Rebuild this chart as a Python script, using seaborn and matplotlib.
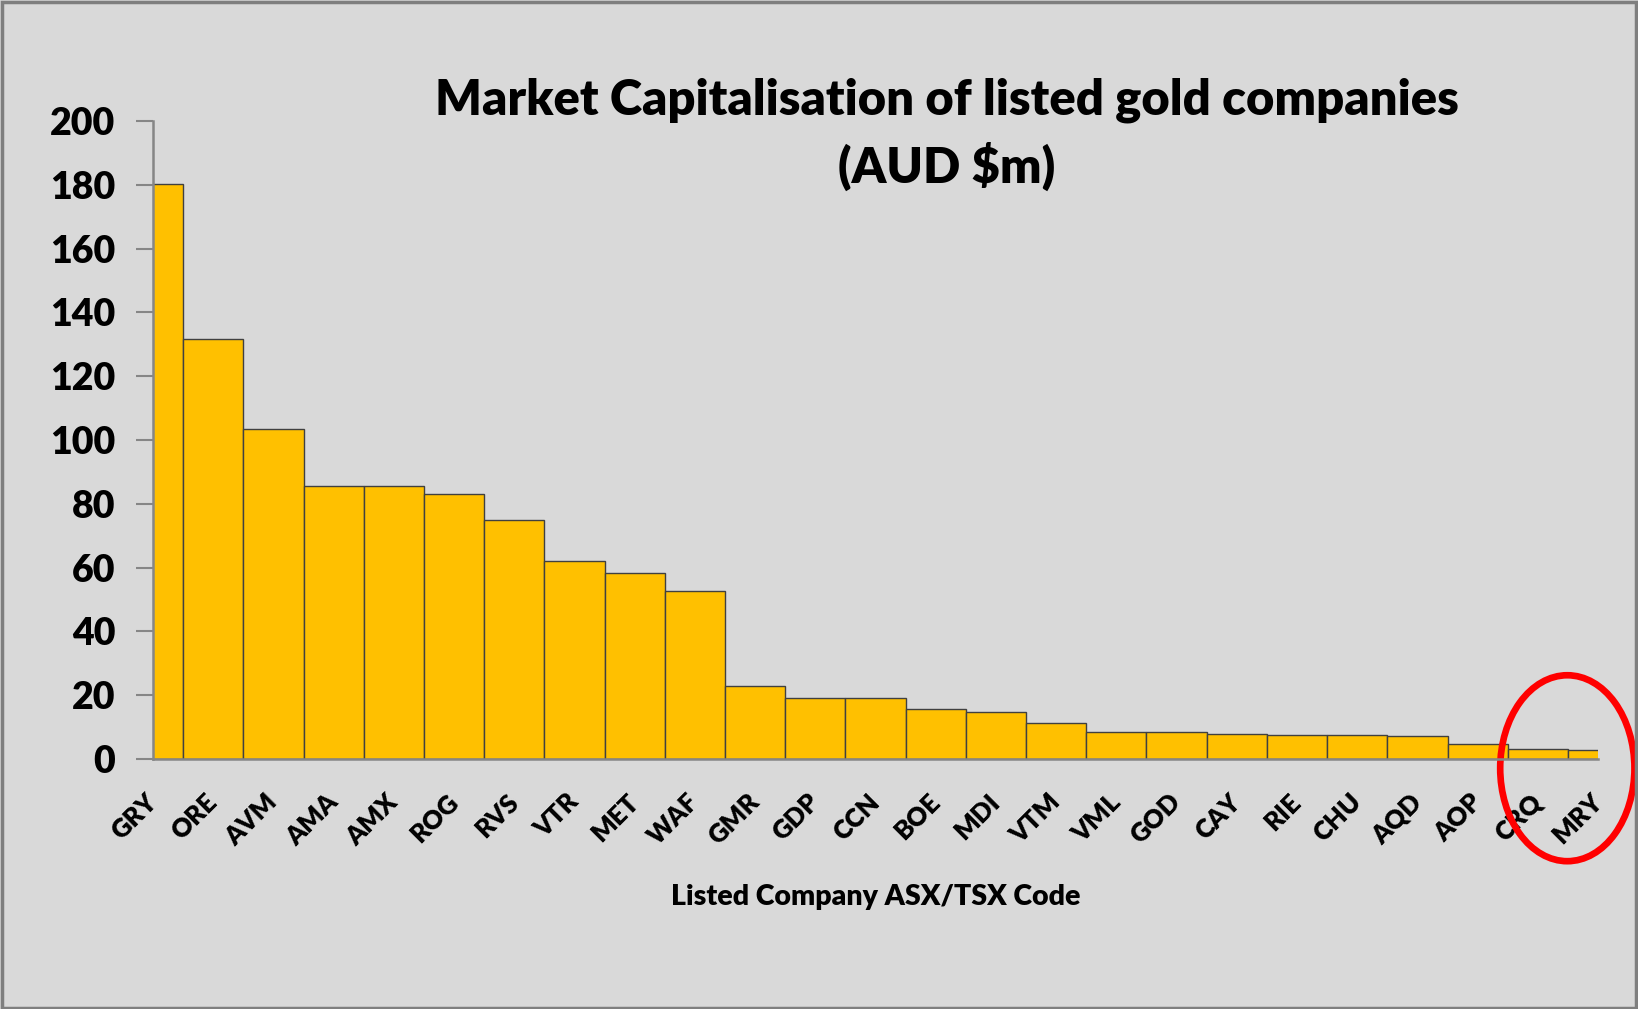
import matplotlib
matplotlib.use("Agg")
import matplotlib.pyplot as plt
from matplotlib.patches import Ellipse, Rectangle
import seaborn as sns
import pandas as pd

codes = ["GRY", "ORE", "AVM", "AMA", "AMX", "ROG", "RVS", "VTR", "MET", "WAF",
         "GMR", "GDP", "CCN", "BOE", "MDI", "VTM", "VML", "GOD", "CAY", "RIE",
         "CHU", "AQD", "AOP", "CRQ", "MRY"]
market_cap = [180.2, 131.8, 103.4, 85.5, 85.5, 83.2, 75.0, 62.0, 58.3, 52.8,
              22.8, 19.1, 19.1, 15.8, 14.7, 11.3, 8.3, 8.3, 7.9, 7.6,
              7.6, 7.3, 4.8, 3.2, 2.8]
y_ticks = [0, 20, 40, 60, 80, 100, 120, 140, 160, 180, 200]

title_text = "Market Capitalisation of listed gold companies\n(AUD $m)"
x_label = "Listed Company ASX/TSX Code"

df = pd.DataFrame({"code": codes, "cap": market_cap})

sns.set_style("white")
plt.rcParams["font.family"] = ["Lato", "DejaVu Sans"]
plt.rcParams["text.color"] = "black"
plt.rcParams["xtick.color"] = "black"
plt.rcParams["ytick.color"] = "black"
plt.rcParams["axes.labelcolor"] = "black"

BG = "#d9d9d9"
fig = plt.figure(figsize=(16.38, 10.09), dpi=100, facecolor=BG)
ax = fig.add_axes([0.0934, 0.2478, 0.8822, 0.6322])
ax.set_facecolor(BG)

sns.barplot(data=df, x="code", y="cap", color="#FFC000", saturation=1,
            edgecolor="#404040", linewidth=1.0, width=1.0, ax=ax)

ax.set_xlim(0, len(codes) - 1)
ax.set_ylim(0, 200)
ax.set_yticks(y_ticks)
ax.set_yticklabels([str(v) for v in y_ticks], fontsize=27, fontweight="heavy",
                   color="black")
ax.tick_params(axis="y", left=True, length=12, width=1.5, color="#868686",
               labelcolor="black", pad=15)
ax.tick_params(axis="x", bottom=False, length=0, pad=28, labelcolor="black")
for lbl in ax.get_xticklabels():
    lbl.set_rotation(45)
    lbl.set_ha("right")
    lbl.set_va("center")
    lbl.set_rotation_mode("anchor")
    lbl.set_fontsize(18.5)
    lbl.set_fontweight("heavy")

for side in ["top", "right"]:
    ax.spines[side].set_visible(False)
for side in ["left", "bottom"]:
    ax.spines[side].set_color("#868686")
    ax.spines[side].set_linewidth(1.8)

ax.set_xlabel(x_label, fontsize=20.5, fontweight="heavy", labelpad=25,
              color="black")
ax.set_ylabel("")

fig.text(0.578, 0.923, title_text, ha="center", va="top", fontsize=35.2,
         fontweight="heavy", linespacing=1.45, color="black")

# red highlight ellipse around the last two codes
ell = Ellipse((23.49, -2.9), width=2.23, height=58.3, transform=ax.transData,
              fill=False, edgecolor="#ff0000", linewidth=4.8, clip_on=False)
ax.add_patch(ell)

# outer chart border
fig.patches.append(Rectangle((0.001, 0.001), 0.998, 0.997, transform=fig.transFigure,
                             fill=False, edgecolor="#7f7f7f", linewidth=2.5))

fig.savefig("out.png", dpi=100, facecolor=BG)
